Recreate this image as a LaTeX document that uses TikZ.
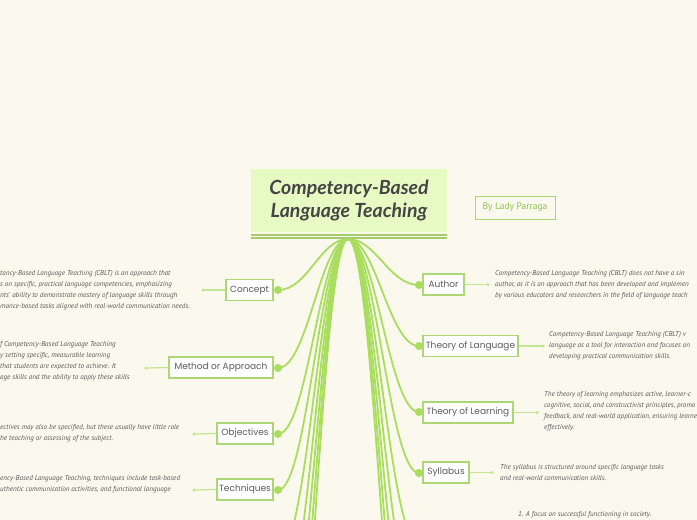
\documentclass[tikz,border=0pt]{standalone}
\usepackage{fontspec}
\newfontfamily\nodefont{Poppins}
\newfontfamily\bodyfont{PT Sans}
\newfontfamily\titlefont{Lato}
\usetikzlibrary{backgrounds}
\definecolor{bgc}{HTML}{FBF9EE}
\definecolor{titlefill}{HTML}{E8FAC4}
\definecolor{titlegray}{HTML}{454545}
\definecolor{dlgreen}{HTML}{A6CD6A}
\definecolor{curvegreen}{HTML}{A8DD5E}
\definecolor{boxgreen}{HTML}{ADD674}
\definecolor{thingreen}{HTML}{C4E692}
\definecolor{txtgray}{HTML}{5C5C5C}
\definecolor{bodygray}{HTML}{5A5A5A}
\definecolor{authgreen}{HTML}{8CC452}
\tikzset{
  topic/.style={draw=boxgreen, line width=1.5pt, fill=white, minimum height=21,
    inner sep=0pt, font=\nodefont\fontsize{9}{11}\selectfont, text=txtgray},
  bigdot/.style={circle, fill=curvegreen, inner sep=0pt, minimum size=8},
  smalldot/.style={circle, fill=thingreen, inner sep=0pt, minimum size=3.5},
  branch/.style={draw=curvegreen, line width=1.8pt},
  leafline/.style={draw=thingreen, line width=1.2pt},
  body/.style={font=\bodyfont\itshape\fontsize{7.1}{10.9}\selectfont, text=bodygray,
    align=left, inner sep=0pt, anchor=west},
  dline/.style={draw=dlgreen, line width=2pt}
}
\begin{document}
\begin{tikzpicture}[x=1pt,y=-1pt]
\useasboundingbox (0,0) rectangle (697,520);
% title
\node[fill=titlefill, minimum width=196, minimum height=63, inner sep=0pt, align=center,
  font=\titlefont\bfseries\itshape\fontsize{19.5}{23}\selectfont, text=titlegray] (title) at (349,200.5) {Competency-Based\\Language Teaching};
\coordinate (dlA1) at (251,234.5);
\coordinate (dlB1) at (447,234.5);
\coordinate (dlA2) at (251,238);
\coordinate (dlB2) at (447,238);
\draw[dline] (dlA1) -- (dlB1);
\draw[dline] (dlA2) -- (dlB2);
\coordinate (root) at (348,239);
% author box
\node[draw=boxgreen, line width=1pt, minimum width=80, minimum height=23, inner sep=0pt,
  font=\bodyfont\fontsize{9.5}{11}\selectfont, text=authgreen] (by) at (515,207.5) {By Lady Parraga};
% left topics
\node[topic, minimum width=47] (concept) at (249.5,290) {Concept};
\node[topic, minimum width=104] (method) at (221,367.5) {Method or Approach};
\node[topic, minimum width=56] (objectives) at (245,433.5) {Objectives};
\node[topic, minimum width=56] (techniques) at (245,489.5) {Techniques};
% right topics
\node[topic, minimum width=41] (author) at (443.5,284.5) {Author};
\node[topic, minimum width=95] (tlang) at (470.5,346) {Theory of Language};
\node[topic, minimum width=90] (tlearn) at (468,412.5) {Theory of Learning};
\node[topic, minimum width=46] (syllabus) at (446,472.5) {Syllabus};
% big dots
\node[bigdot] (dconcept) at (278,290) {};
\node[bigdot] (dmethod) at (278,368) {};
\node[bigdot] (dobjectives) at (278,434) {};
\node[bigdot] (dtechniques) at (278,490) {};
\node[bigdot] (dauthor) at (419,285) {};
\node[bigdot] (dtlang) at (419,346) {};
\node[bigdot] (dtlearn) at (419,412) {};
\node[bigdot] (dsyllabus) at (419,473) {};
% off-canvas branch ends
\coordinate (L5) at (278,555);
\coordinate (L6) at (278,625);
\coordinate (L7) at (278,695);
\coordinate (L8) at (278,765);
\coordinate (L9) at (278,835);
\coordinate (R5) at (419,545);
\coordinate (R6) at (419,615);
\coordinate (R7) at (419,685);
\coordinate (R8) at (419,755);
\coordinate (R9) at (419,825);
% small dots
\node[smalldot] (sconcept) at (203,290) {};
\node[smalldot] (smethod) at (146,368) {};
\node[smalldot] (sobjectives) at (194,434) {};
\node[smalldot] (stechniques) at (194,490) {};
\node[smalldot] (sauthor) at (488,284.5) {};
\node[smalldot] (stlang) at (543,346) {};
\node[smalldot] (stlearn) at (537,412.5) {};
\node[smalldot] (ssyllabus) at (492,472.5) {};
% texts
\node[body] (tconcept) at (0,290) {tancy-Based Language Teaching (CBLT) is an approach that\\s on specific, practical language competencies, emphasizing\\nts' ability to demonstrate mastery of language skills through\\mance-based tasks aligned with real-world communication needs.};
\node[body] (tmethod) at (0,361.5) {f Competency-Based Language Teaching\\y setting specific, measurable learning\\ that students are expected to achieve. It\\age skills and the ability to apply these skills};
\node[body] (tobjectives) at (0,433.5) {ectives may also be specified, but these usually have little role\\he teaching or assessing of the subject.};
\node[body] (ttechniques) at (0,484) {ency-Based Language Teaching, techniques include task-based\\uthentic communication activities, and functional language};
\node[body] (tauthor) at (495,284.5) {Competency-Based Language Teaching (CBLT) does not have a sin\\author, as it is an approach that has been developed and implemen\\by various educators and researchers in the field of language teach};
\node[body] (ttlang) at (549,346) {Competency-Based Language Teaching (CBLT) v\\language as a tool for interaction and focuses on\\developing practical communication skills.};
\node[body] (ttlearn) at (544,411.5) {The theory of learning emphasizes active, learner-c\\cognitive, social, and constructivist principles, promo\\feedback, and real-world application, ensuring learne\\effectively.};
\node[body] (tsyllabus) at (500,472.5) {The syllabus is structured around specific language tasks\\and real-world communication skills.};
\node[body] (tbottom) at (518,515) {1. A focus on successful functioning in society.};
\begin{scope}[on background layer]
\fill[bgc] (0,0) rectangle (697,520);
\foreach \d in {dconcept,dmethod,dobjectives,dtechniques,L5,L6,L7,L8,L9}
  \draw[branch] (root) .. controls +(-28,0) and +(30,0) .. (\d.center);
\foreach \d in {dauthor,dtlang,dtlearn,dsyllabus,R5,R6,R7,R8,R9}
  \draw[branch] (root) .. controls +(28,0) and +(-30,0) .. (\d.center);
\draw[leafline] (concept.west) -- (sconcept.center);
\draw[leafline] (method.west) -- (smethod.center);
\draw[leafline] (objectives.west) -- (sobjectives.center);
\draw[leafline] (techniques.west) -- (stechniques.center);
\draw[leafline] (author.east) -- (sauthor.center);
\draw[leafline] (tlang.east) -- (stlang.center);
\draw[leafline] (tlearn.east) -- (stlearn.center);
\draw[leafline] (syllabus.east) -- (ssyllabus.center);
\end{scope}
\end{tikzpicture}
\end{document}
